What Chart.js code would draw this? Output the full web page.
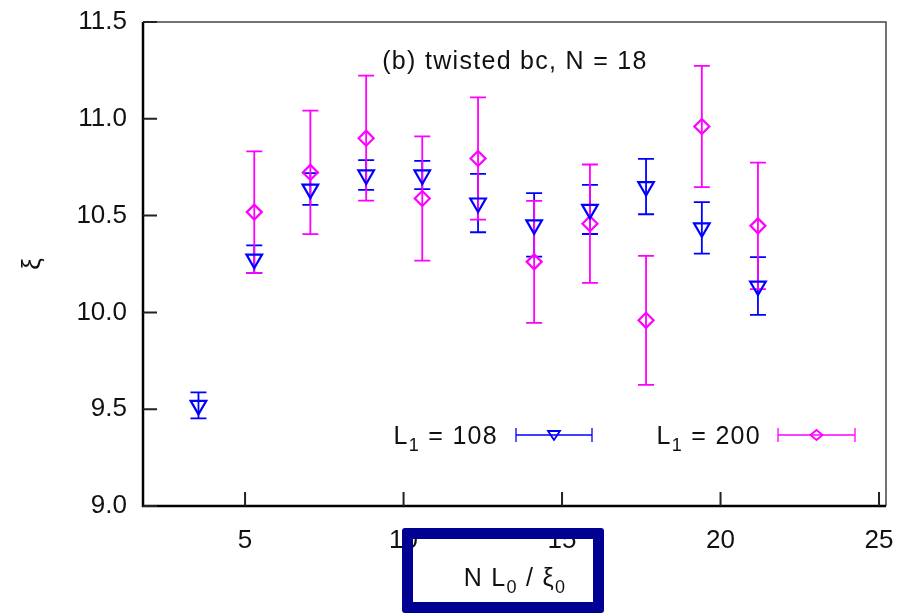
<!DOCTYPE html>
<html>
<head>
<meta charset="UTF-8">
<title>twisted bc, N = 18</title>
<script src="https://cdn.jsdelivr.net/npm/chart.js"></script>
<style>
  body { margin: 0; background: #fff; }
  #wrap { position: relative; width: 902px; height: 614px; }
  #box { position: absolute; left: 402px; top: 528px; width: 180px; height: 63px;
         border: 11px solid #000092; border-radius: 3px; }
</style>
</head>
<body>
<div id="wrap">
  <canvas id="myChart"></canvas>
  <div id="box"></div>
</div>
<script>
// N L0 / xi0 values
const xVals = [3.53, 5.29, 7.06, 8.82, 10.59, 12.35, 14.12, 15.88, 17.65, 19.41, 21.18];
// L1 = 108
const xi108  = [9.52, 10.275, 10.637, 10.71, 10.71, 10.565, 10.452, 10.532, 10.65, 10.437, 10.136];
const err108 = [0.067, 0.071, 0.082, 0.077, 0.073, 0.151, 0.164, 0.127, 0.143, 0.133, 0.149];
// L1 = 200
const xi200  = [null, 10.518, 10.723, 10.90, 10.588, 10.795, 10.261, 10.458, 9.959, 10.96, 10.447];
const err200 = [null, 0.314, 0.319, 0.323, 0.321, 0.316, 0.315, 0.306, 0.333, 0.313, 0.327];

const xTicks = [5, 10, 15, 20, 25];
const yTicks = [9.0, 9.5, 10.0, 10.5, 11.0, 11.5];

const FONT = "'Liberation Sans', Arial, Helvetica, sans-serif";
const BLUE = '#0000ff';
const MAGENTA = '#ff00ff';

function toPoints(ys) {
    return xVals.map((x, i) => ({ x: x, y: ys[i] })).filter(p => p.y != null);
}

// vertical error bars with caps
const errorBars = {
    id: 'errorBars',
    beforeDatasetsDraw(chart) {
        const { ctx, chartArea, scales: { x, y } } = chart;
        ctx.save();
        ctx.beginPath();
        ctx.rect(chartArea.left, chartArea.top, chartArea.right - chartArea.left, chartArea.bottom - chartArea.top);
        ctx.clip();
        chart.data.datasets.forEach(ds => {
            ctx.strokeStyle = ds.borderColor;
            ctx.lineWidth = 1.8;
            ds.data.forEach((p, i) => {
                const e = ds.errors[i];
                const px = x.getPixelForValue(p.x);
                const top = y.getPixelForValue(p.y + e);
                const bot = y.getPixelForValue(p.y - e);
                ctx.beginPath();
                ctx.moveTo(px, top); ctx.lineTo(px, bot);
                ctx.moveTo(px - 8, top); ctx.lineTo(px + 8, top);
                ctx.moveTo(px - 8, bot); ctx.lineTo(px + 8, bot);
                ctx.stroke();
            });
        });
        ctx.restore();
    }
};

// box frame + inward ticks
const frame = {
    id: 'frame',
    afterDatasetsDraw(chart) {
        const { ctx, chartArea: a, scales: { x, y } } = chart;
        ctx.save();
        ctx.strokeStyle = '#444';
        ctx.lineWidth = 1.5;
        ctx.beginPath();
        ctx.moveTo(a.left, a.top); ctx.lineTo(a.right, a.top); ctx.lineTo(a.right, a.bottom);
        ctx.stroke();
        ctx.strokeStyle = '#000';
        ctx.lineWidth = 2.5;
        ctx.beginPath();
        ctx.moveTo(a.left, a.top); ctx.lineTo(a.left, a.bottom); ctx.lineTo(a.right, a.bottom);
        ctx.stroke();
        ctx.lineWidth = 2;
        ctx.strokeStyle = '#222';
        ctx.beginPath();
        yTicks.forEach(v => {
            const py = y.getPixelForValue(v);
            ctx.moveTo(a.left, py); ctx.lineTo(a.left + 14, py);
        });
        xTicks.forEach(v => {
            const px = x.getPixelForValue(v);
            ctx.moveTo(px, a.bottom); ctx.lineTo(px, a.bottom - 14);
        });
        ctx.stroke();
        ctx.restore();
    }
};

function drawSub(ctx, parts, x, y, size) {
    // parts: [text, isSub]
    let cx = x;
    parts.forEach(([t, sub]) => {
        ctx.font = (sub ? Math.round(size * 0.7) : size) + 'px ' + FONT;
        ctx.fillText(t, cx, sub ? y + 7 : y);
        cx += ctx.measureText(t).width;
    });
    return cx - x;
}
function measureSub(ctx, parts, size) {
    let w = 0;
    parts.forEach(([t, sub]) => {
        ctx.font = (sub ? Math.round(size * 0.7) : size) + 'px ' + FONT;
        w += ctx.measureText(t).width;
    });
    return w;
}

function drawMarker(ctx, style, cx, cy, color) {
    ctx.strokeStyle = color;
    ctx.lineWidth = 1.8;
    ctx.beginPath();
    if (style === 'tri') {
        ctx.moveTo(cx - 6, cy - 4); ctx.lineTo(cx + 6, cy - 4); ctx.lineTo(cx, cy + 5); ctx.closePath();
    } else {
        ctx.moveTo(cx - 6, cy); ctx.lineTo(cx, cy - 5); ctx.lineTo(cx + 6, cy); ctx.lineTo(cx, cy + 5); ctx.closePath();
    }
    ctx.stroke();
}

// title, legend, x label
const texts = {
    id: 'texts',
    afterDraw(chart) {
        const { ctx, chartArea: a } = chart;
        ctx.save();
        ctx.fillStyle = '#111';
        ctx.textBaseline = 'alphabetic';
        ctx.letterSpacing = '1.3px';

        ctx.font = '25px ' + FONT;
        ctx.textAlign = 'left';
        const tw = ctx.measureText('(b) twisted bc, N = 18').width;
        ctx.fillText('(b) twisted bc, N = 18', 515 - tw / 2, a.top + 47);

        const entries = [
            { label: '108', textRight: 498, l: 516, r: 592, color: BLUE, style: 'tri' },
            { label: '200', textRight: 761, l: 778, r: 855, color: MAGENTA, style: 'dia' }
        ];
        const ly = 435;
        entries.forEach(en => {
            const parts = [['L', false], ['1', true], [' = ' + en.label, false]];
            const w = measureSub(ctx, parts, 25);
            ctx.fillStyle = '#111';
            drawSub(ctx, parts, en.textRight - w, ly + 9, 25);
            ctx.strokeStyle = en.color;
            ctx.lineWidth = 1.3;
            ctx.beginPath();
            ctx.moveTo(en.l, ly); ctx.lineTo(en.r, ly);
            ctx.moveTo(en.l, ly - 7); ctx.lineTo(en.l, ly + 7);
            ctx.moveTo(en.r, ly - 7); ctx.lineTo(en.r, ly + 7);
            ctx.stroke();
            drawMarker(ctx, en.style, (en.l + en.r) / 2, ly, en.color);
        });

        const xl = [['N L', false], ['0', true], [' / ξ', false], ['0', true]];
        const wx = measureSub(ctx, xl, 25);
        ctx.fillStyle = '#111';
        drawSub(ctx, xl, 515 - wx / 2, 586, 25);
        ctx.restore();
    }
};

const ctx = document.getElementById('myChart').getContext('2d');
const myChart = new Chart(ctx, {
    type: 'scatter',
    data: {
        datasets: [{
            label: 'L1 = 108',
            data: toPoints(xi108),
            errors: toPoints(xi108).map(p => err108[xVals.indexOf(p.x)]),
            borderColor: BLUE,
            backgroundColor: 'rgba(0,0,0,0)',
            pointStyle: 'triangle',
            rotation: 180,
            pointRadius: 9,
            pointBorderWidth: 2.2
        }, {
            label: 'L1 = 200',
            data: toPoints(xi200),
            errors: toPoints(xi200).map(p => err200[xVals.indexOf(p.x)]),
            borderColor: MAGENTA,
            backgroundColor: 'rgba(0,0,0,0)',
            pointStyle: 'rectRot',
            pointRadius: 7.5,
            pointBorderWidth: 2.2
        }]
    },
    options: {
        responsive: true,
        maintainAspectRatio: false,
        animation: false,
        events: [],
        layout: { padding: { top: 22, right: 16, left: 0, bottom: 0 } },
        plugins: { legend: { display: false }, tooltip: { enabled: false } },
        scales: {
            x: {
                type: 'linear',
                min: 1.78,
                max: 25.22,
                border: { display: false },
                grid: { display: false, drawTicks: false },
                afterBuildTicks: s => { s.ticks = xTicks.map(v => ({ value: v })); },
                afterFit: s => { s.height = 108; s.paddingLeft = 0; s.paddingRight = 0; },
                ticks: {
                    autoSkip: false,
                    maxRotation: 0,
                    padding: 19,
                    color: '#111',
                    font: { family: FONT, size: 26 },
                    callback: v => String(v)
                }
            },
            y: {
                type: 'linear',
                min: 9.0,
                max: 11.5,
                border: { display: false },
                grid: { display: false, drawTicks: false },
                afterBuildTicks: s => { s.ticks = yTicks.map(v => ({ value: v })); },
                afterFit: s => { s.width = 143; s.paddingTop = 0; s.paddingBottom = 0; },
                title: {
                    display: true,
                    text: 'ξ',
                    color: '#111',
                    font: { family: FONT, size: 26 },
                    padding: { top: 17, bottom: 0 }
                },
                ticks: {
                    padding: 16,
                    color: '#111',
                    font: { family: FONT, size: 26 },
                    callback: v => v.toFixed(1)
                }
            }
        }
    },
    plugins: [errorBars, frame, texts]
});
</script>
</body>
</html>
